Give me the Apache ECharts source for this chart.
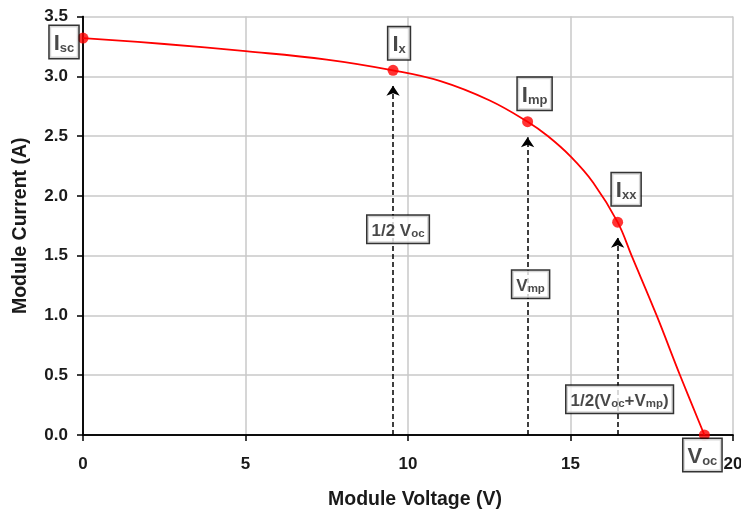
<!DOCTYPE html>
<html>
<head>
<meta charset="utf-8">
<script src="https://cdn.jsdelivr.net/npm/echarts@6/dist/echarts.min.js"></script>
<style>
html,body{margin:0;padding:0;background:#fff;}
#c{width:741px;height:510px;}
</style>
</head>
<body>
<div id="c"></div>
<script>
// I-V curve
const voltage = [0, 2.5, 5, 7.5, 9.54, 11, 12.5, 13.68, 14.3, 15, 15.7, 16.45, 16.88, 17.65, 18.37, 19.12];
const current = [3.32, 3.27, 3.21, 3.14, 3.05, 2.96, 2.80, 2.62, 2.50, 2.33, 2.11, 1.78, 1.5, 1.0, 0.5, 0];

// key points
const keyMain = ['I', 'I', 'I', 'I', 'V'];
const keySub = ['sc', 'x', 'mp', 'xx', 'oc'];
const keyV = [0, 9.54, 13.68, 16.45, 19.12];
const keyI = [3.32, 3.05, 2.62, 1.78, 0];

// arrows (voltage positions) and their labels
const arrowV = [9.54, 13.68, 16.45];
const arrowTopI = [3.05, 2.62, 1.78];
const arrowLabelI = [1.72, 1.26, 0.30];
const arrowLabelParts = [
  [['m', '1/2 V'], ['s', 'oc']],
  [['m', 'V'], ['s', 'mp']],
  [['m', '1/2(V'], ['s', 'oc'], ['m', '+V'], ['s', 'mp'], ['m', ')']]
];

const xTicks = { min: 0, max: 20, interval: 5 };
const yTicks = { min: 0, max: 3.5, interval: 0.5 };

const FONT = '"Liberation Sans", Arial, sans-serif';
const TXT = '#1a1a1a';

const keyOffsets = [[-19, 4], [6, -27], [7, -28], [8.5, -33], [-2, 20]];
const arrowOffsets = [[5, 0], [3, 0], [2, 0]];

const richStyle = {
  m: { fontFamily: FONT, fontWeight: 'bold', fontSize: 17, color: TXT, lineHeight: 21, verticalAlign: 'bottom' },
  ms: { fontFamily: FONT, fontWeight: 'bold', fontSize: 11.5, color: TXT, lineHeight: 14, verticalAlign: 'bottom' },
  b: { fontFamily: FONT, fontWeight: 'bold', fontSize: 22, color: TXT, lineHeight: 26, verticalAlign: 'bottom' },
  s: { fontFamily: FONT, fontWeight: 'bold', fontSize: 13, color: TXT, lineHeight: 15, verticalAlign: 'bottom' }
};

const boxLabel = {
  show: true,
  position: 'inside',
  backgroundColor: '#fff',
  borderColor: '#000',
  borderWidth: 1.5,
  rich: richStyle
};

const keyData = keyV.map((v, i) => ({
  value: [v, keyI[i]],
  label: Object.assign({}, boxLabel, {
    offset: keyOffsets[i],
    padding: [3, 4, 3, 4],
    formatter: '{b|' + keyMain[i] + '}{s|' + keySub[i] + '}'
  })
}));

const arrowLabelData = arrowV.map((v, i) => ({
  value: [v, arrowLabelI[i]],
  label: Object.assign({}, boxLabel, {
    offset: arrowOffsets[i],
    padding: [3, 4, 3, 4],
    formatter: arrowLabelParts[i].map(p => '{' + (p[0] === 's' ? 'ms' : 'm') + '|' + p[1] + '}').join('')
  })
}));

const arrowLines = arrowV.map((v, i) => [
  { coord: [v, 0] },
  { coord: [v, arrowTopI[i] - 0.13] }
]);

const axisFrame = {
  show: true,
  axisLine: { show: true, lineStyle: { color: '#000', width: 1.5 } },
  axisTick: { show: false },
  axisLabel: { show: false },
  splitLine: { show: false }
};

const chart = echarts.init(document.getElementById('c'), null, { renderer: 'canvas' });
chart.setOption({
  animation: false,
  backgroundColor: '#fff',
  grid: { left: 83, right: 8, top: 16.5, bottom: 75, containLabel: false, outerBoundsMode: 'none' },
  xAxis: [{
    type: 'value', min: xTicks.min, max: xTicks.max, interval: xTicks.interval,
    name: 'Module Voltage (V)', nameLocation: 'middle', nameGap: 55,
    nameTextStyle: { fontFamily: FONT, fontWeight: 'bold', fontSize: 19.5, color: TXT, padding: [0, 0, 0, 14] },
    axisLine: { lineStyle: { color: '#000', width: 1.5 } },
    axisTick: { show: true, length: 6, lineStyle: { color: '#000', width: 1.5 } },
    axisLabel: { margin: 21, fontFamily: FONT, fontWeight: 'bold', fontSize: 17, color: TXT },
    splitLine: { show: true, lineStyle: { color: '#c8c8c8', width: 1.5 } }
  }, Object.assign({ type: 'value', position: 'top', min: xTicks.min, max: xTicks.max }, axisFrame)],
  yAxis: [{
    type: 'value', min: yTicks.min, max: yTicks.max, interval: yTicks.interval,
    name: 'Module Current (A)', nameLocation: 'middle', nameGap: 52,
    nameTextStyle: { fontFamily: FONT, fontWeight: 'bold', fontSize: 19.5, color: TXT },
    axisLine: { lineStyle: { color: '#000', width: 1.5 } },
    axisTick: { show: true, length: 6, lineStyle: { color: '#000', width: 1.5 } },
    axisLabel: { margin: 15, fontFamily: FONT, fontWeight: 'bold', fontSize: 17, color: TXT,
      formatter: v => v.toFixed(1) },
    splitLine: { show: true, lineStyle: { color: '#c8c8c8', width: 1.5 } }
  }, Object.assign({ type: 'value', position: 'right', min: yTicks.min, max: yTicks.max }, axisFrame)],
  series: [
    {
      type: 'line', z: 1, data: [], silent: true,
      markLine: {
        silent: true, animation: false,
        symbol: ['none', 'arrow'], symbolSize: 10,
        itemStyle: { color: '#000' },
        lineStyle: { color: '#000', width: 1.5, type: [5, 3] },
        label: { show: false },
        data: arrowLines
      }
    },
    {
      type: 'line', z: 3,
      data: voltage.map((v, i) => [v, current[i]]),
      smooth: 0.4,
      showSymbol: false, symbol: 'none',
      lineStyle: { color: '#ff0000', width: 1.8 }
    },
    {
      type: 'scatter', z: 4,
      symbol: 'circle', symbolSize: 11,
      itemStyle: { color: '#ff0000' },
      data: keyData
    },
    {
      type: 'scatter', z: 5,
      symbol: 'circle', symbolSize: 0,
      itemStyle: { color: 'transparent' },
      data: arrowLabelData
    }
  ]
});
</script>
</body>
</html>
